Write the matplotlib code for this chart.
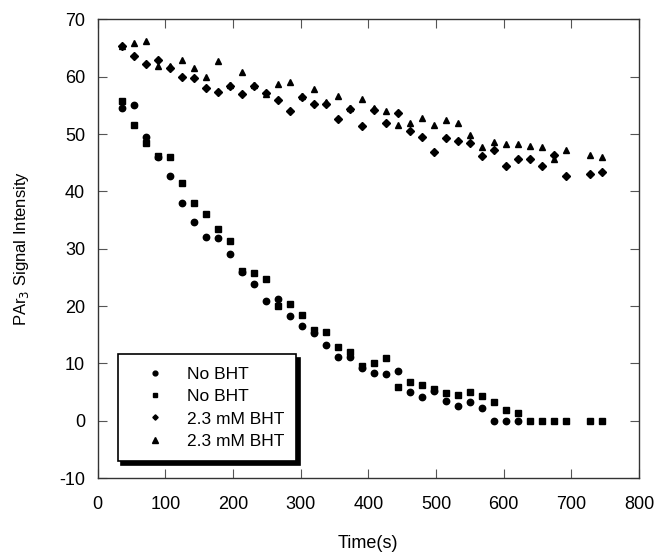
import matplotlib
matplotlib.use("Agg")
import matplotlib.pyplot as plt

plt.rcParams['font.family'] = ['Liberation Sans', 'DejaVu Sans']
plt.rcParams['axes.unicode_minus'] = False

t_circ = [36, 54, 71, 89, 107, 125, 142, 160, 178, 196, 213, 231, 249, 267, 284, 302, 320, 337,
          355, 373, 391, 409, 426, 444, 461, 479, 497, 515, 532, 550, 568, 586, 603, 621]
no_bht_1 = [54.5, 55.1, 49.5, 46.0, 42.7, 38.0, 34.7, 32.1, 31.8, 29.0, 26.0, 23.8, 20.8, 21.2,
            18.3, 16.5, 15.3, 13.3, 11.1, 11.1, 9.2, 8.3, 8.2, 8.7, 5.0, 4.2, 5.2, 3.4, 2.6, 3.3,
            2.3, 0.0, 0.0, 0.0]

t_all = [36, 54, 71, 89, 107, 125, 142, 160, 178, 196, 213, 231, 249, 267, 284, 302, 320, 337,
         355, 373, 391, 409, 426, 444, 461, 479, 497, 515, 532, 550, 568, 586, 603, 621, 639,
         656, 674, 692, 727, 745]
no_bht_2 = [55.8, 51.6, 48.5, 46.1, 46.0, 41.4, 37.9, 36.0, 33.4, 31.4, 26.1, 25.8, 24.8, 20.1,
            20.3, 18.5, 15.8, 15.5, 12.9, 12.0, 9.6, 10.1, 10.9, 5.9, 6.8, 6.3, 5.5, 4.9, 4.5,
            5.1, 4.3, 3.2, 1.9, 1.4, 0.0, 0.0, 0.0, 0.0, 0.0, 0.0]
bht_1 = [65.3, 63.7, 62.3, 63.0, 61.5, 59.9, 59.7, 58.0, 57.3, 58.3, 57.0, 58.3, 57.1, 55.9,
         54.1, 56.4, 55.2, 55.2, 52.6, 54.4, 51.4, 54.2, 52.0, 53.6, 50.5, 49.5, 46.8, 49.4,
         48.8, 48.5, 46.2, 47.3, 44.5, 45.6, 45.7, 44.4, 46.3, 42.7, 43.1, 43.4]
bht_2 = [65.4, 65.8, 66.3, 61.9, 61.8, 63.0, 61.6, 59.9, 62.7, 58.5, 60.9, 58.6, 57.0, 58.7,
         59.1, 56.6, 57.8, 55.6, 56.7, 54.6, 56.2, 54.5, 54.1, 51.6, 52.0, 52.8, 51.5, 52.4,
         52.0, 49.9, 47.7, 48.6, 48.3, 48.3, 48.0, 47.8, 45.6, 47.2, 46.3, 46.0]

labels = ["No BHT", "No BHT", "2.3 mM BHT", "2.3 mM BHT"]

fig = plt.figure(figsize=(6.55, 5.54), dpi=100)
ax = fig.add_axes([0.149, 0.137, 0.8266, 0.828])

ax.plot(t_circ, no_bht_1, 'o', color='black', markersize=4.6, label=labels[0], linestyle='none')
ax.plot(t_all, no_bht_2, 's', color='black', markersize=4.6, label=labels[1], linestyle='none')
ax.plot(t_all, bht_1, 'D', color='black', markersize=3.6, label=labels[2], linestyle='none')
ax.plot(t_all, bht_2, '^', color='black', markersize=5.0, label=labels[3], linestyle='none')

ax.set_xlim(0, 800)
ax.set_ylim(-10, 70)
ax.set_xticks(range(0, 801, 100))
ax.set_yticks(range(-10, 71, 10))
ax.tick_params(direction='in', length=6.5, width=0.8, color='#555555', labelsize=13,
               top=True, right=True)
ax.tick_params(axis='x', pad=13)
ax.tick_params(axis='y', pad=9)
for s in ax.spines.values():
    s.set_linewidth(1.0)
    s.set_color('#333333')

ax.set_xlabel("Time(s)", fontsize=13, labelpad=16)
ax.set_ylabel("PAr$_3$ Signal Intensity", fontsize=12, labelpad=20)

leg = ax.legend(loc='lower left', bbox_to_anchor=(0.0377, 0.037), borderaxespad=0,
                frameon=True, fancybox=False,
                edgecolor='black', fontsize=12.5, markerscale=0.75, handletextpad=0.4,
                labelspacing=0.42, borderpad=0.7, handlelength=2.87,
                shadow={'color': 'black', 'alpha': 1.0, 'ox': 2.5, 'oy': -2.5})
leg.get_frame().set_linewidth(1.2)

fig.savefig("out.png", dpi=100)
